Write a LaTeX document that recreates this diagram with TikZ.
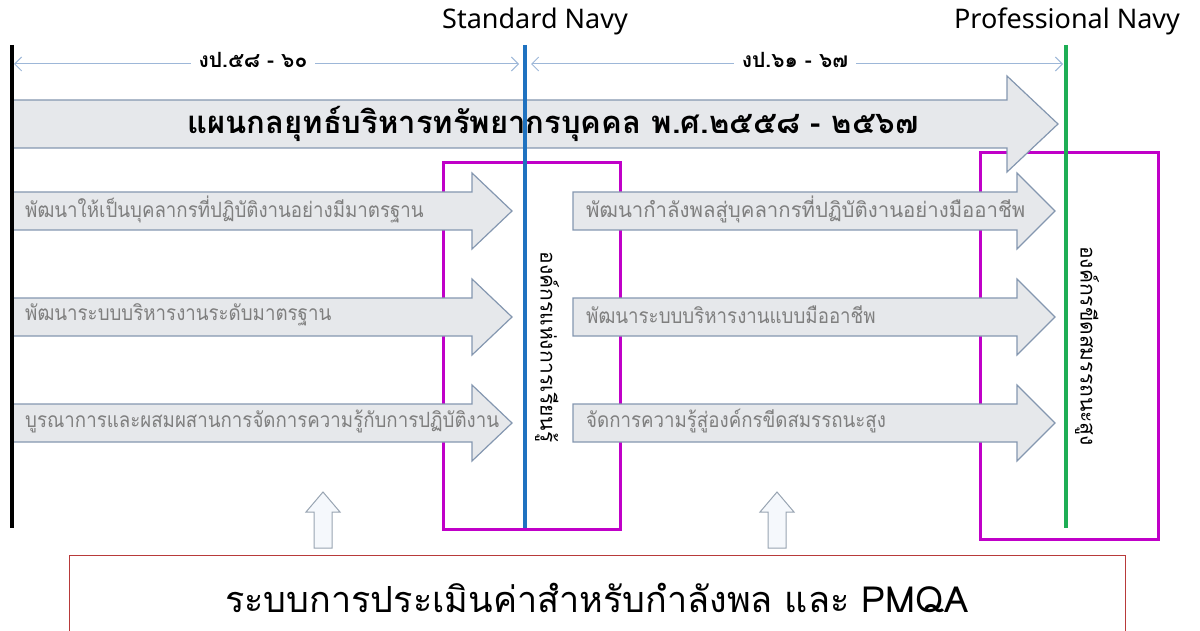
\documentclass[tikz,border=0pt]{standalone}
\usepackage{fontspec}
\setmainfont{Noto Sans}
\newfontfamily\thai[Script=Thai]{Loma}
\usetikzlibrary{arrows.meta}
\definecolor{arrfill}{HTML}{E6E8EB}
\definecolor{arrline}{HTML}{8497B0}
\definecolor{upline}{HTML}{98A4B2}
\definecolor{upfill}{HTML}{F5F8FC}
\definecolor{dimline}{HTML}{9DB7D8}
\definecolor{navyblue}{HTML}{1F72C0}
\definecolor{navygreen}{HTML}{1EAE55}
\definecolor{mag}{HTML}{C000C8}
\definecolor{boxred}{HTML}{B83A3A}
\definecolor{txtgray}{HTML}{7F7F7F}
\tikzset{
  bigarrow/.style={fill=arrfill, draw=arrline, line width=1.2pt, line join=miter},
  upbox/.style={fill=upfill, draw=upline, line width=1pt},
  timeline/.style={line width=4pt},
  magbox/.style={draw=mag, line width=3pt},
  dimarrow/.style={draw=dimline, line width=1pt, {Straight Barb[length=7pt,width=14pt]}-{Straight Barb[length=7pt,width=14pt]}},
  dimlabel/.style={fill=white, inner xsep=8pt, inner ysep=2pt, font=\thai\bfseries\fontsize{21}{21}\selectfont},
  rowtext/.style={anchor=west, inner sep=0pt, text=txtgray, font=\thai\fontsize{21}{21}\selectfont},
  navylabel/.style={font=\fontsize{27}{27}\selectfont, inner sep=0pt},
  vtext/.style={rotate=-90, inner sep=0pt, font=\thai\fontsize{21}{21}\selectfont},
}
\newcommand{\narrowtext}[2][0.89]{\scalebox{#1}[1]{#2}}
\begin{document}
\begin{tikzpicture}[x=1pt,y=-1pt]
\useasboundingbox (0,0) rectangle (1200,631);
% magenta boxes (behind arrows)
\draw[magbox] (443,163) rectangle (620,529);
\draw[magbox] (980,153) rectangle (1158,539);
% main arrow
\draw[bigarrow] (12,100) -- (1007,100) -- (1007,76) -- (1058,124) -- (1007,172) -- (1007,148) -- (12,148) -- cycle;
\node[font=\thai\bfseries\fontsize{31}{31}\selectfont, inner sep=0pt] (plan) at (553,124) {แผนกลยุทธ์บริหารทรัพยากรบุคคล พ.ศ.๒๕๕๘ - ๒๕๖๗};
% row arrows
\foreach \c in {211,317,423}{
  \draw[bigarrow] (12,\c-19) -- (472,\c-19) -- (472,\c-38) -- (512,\c) -- (472,\c+38) -- (472,\c+19) -- (12,\c+19) -- cycle;
  \draw[bigarrow] (573,\c-19) -- (1017,\c-19) -- (1017,\c-38) -- (1055,\c) -- (1017,\c+38) -- (1017,\c+19) -- (573,\c+19) -- cycle;
}
\node[rowtext] (l1) at (25,209) {\narrowtext{พัฒนาให้เป็นบุคลากรที่ปฏิบัติงานอย่างมีมาตรฐาน}};
\node[rowtext] (l2) at (25,315) {\narrowtext{พัฒนาระบบบริหารงานระดับมาตรฐาน}};
\node[rowtext] (l3) at (25,421) {\narrowtext{บูรณาการและผสมผสานการจัดการความรู้กับการปฏิบัติงาน}};
\node[rowtext] (r1) at (586,209) {\narrowtext[0.97]{พัฒนากำลังพลสู่บุคลากรที่ปฏิบัติงานอย่างมืออาชีพ}};
\node[rowtext] (r2) at (586,315) {\narrowtext{พัฒนาระบบบริหารงานแบบมืออาชีพ}};
\node[rowtext] (r3) at (586,421) {\narrowtext{จัดการความรู้สู่องค์กรขีดสมรรถนะสูง}};
% timelines
\coordinate (bt) at (12,45); \coordinate (bb) at (12,528);
\coordinate (st) at (525,45); \coordinate (sb) at (525,528);
\coordinate (pt) at (1066,45); \coordinate (pb) at (1066,528);
\draw[timeline, black] (bt) -- (bb);
\draw[timeline, navyblue] (st) -- (sb);
\draw[timeline, navygreen] (pt) -- (pb);
\node[navylabel] (std) at (535,21) {Standard Navy};
\node[navylabel] (pro) at (1067,21) {Professional Navy};
% dimension arrows
\coordinate (d1a) at (14,64); \coordinate (d1b) at (519,64);
\coordinate (d2a) at (531,64); \coordinate (d2b) at (1063,64);
\draw[dimarrow] (d1a) -- (d1b);
\draw[dimarrow] (d2a) -- (d2b);
\node[dimlabel] (y1) at (253,60) {งป.๕๘ - ๖๐};
\node[dimlabel] (y2) at (795,60) {งป.๖๑ - ๖๗};
% vertical labels
\node[vtext] (learn) at (547,347) {องค์กรแห่งการเรียนรู้};
\node[vtext] (hpo) at (1087,346) {องค์กรขีดสมรรถนะสูง};
% up arrows
\foreach \x in {323,777}{
  \draw[upbox] (\x,492) -- (\x+17,512) -- (\x+9,512) -- (\x+9,548) -- (\x-9,548) -- (\x-9,512) -- (\x-17,512) -- cycle;
}
% bottom box
\draw[draw=boxred, line width=1pt] (69,640) -- (69,555) -- (1125,555) -- (1125,640);
\node[font=\thai\fontsize{36}{36}\selectfont, inner sep=0pt] (pmqa) at (597,598) {ระบบการประเมินค่าสำหรับกำลังพล และ PMQA};
\end{tikzpicture}
\end{document}
